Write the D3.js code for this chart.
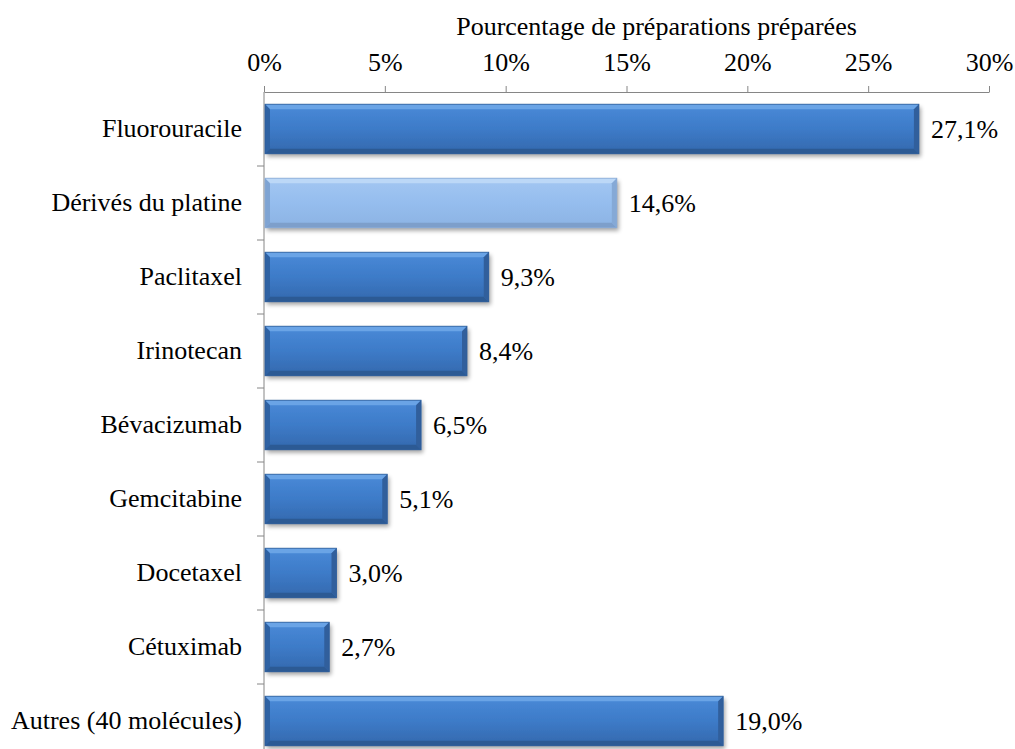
<!DOCTYPE html>
<html><head><meta charset="utf-8">
<script src="https://cdn.jsdelivr.net/npm/d3@7/dist/d3.min.js"></script>
<style>body{margin:0;background:#fff}svg{display:block}text{font-family:"Liberation Serif","Times New Roman",serif;fill:#000}</style>
</head><body>
<svg id="c" width="1015" height="749"></svg>
<script>
const categories = ["Fluorouracile","Dérivés du platine","Paclitaxel","Irinotecan","Bévacizumab","Gemcitabine","Docetaxel","Cétuximab","Autres (40 molécules)"];
const values = [27.1,14.6,9.3,8.4,6.5,5.1,3.0,2.7,19.0];
const valueLabels = ["27,1%","14,6%","9,3%","8,4%","6,5%","5,1%","3,0%","2,7%","19,0%"];
const highlighted = ["Dérivés du platine"];
const tickValues = [0,5,10,15,20,25,30];
const axisTitle = "Pourcentage de préparations préparées";

(function(){
const svg = d3.select("#c");
const FS = "26px", FF = "Liberation Serif, Times New Roman, serif";
const mL = 264, mR = 989, mT = 92, bandH = 74;
const x = d3.scaleLinear().domain([0,30]).range([mL,mR]);
const y = d3.scaleBand().domain(categories).range([mT, mT + bandH*categories.length]).paddingInner(0.33).paddingOuter(0.165);

const defs = svg.append("defs");
function grad(id, stops){
  const g = defs.append("linearGradient").attr("id",id).attr("x1",0).attr("y1",0).attr("x2",0).attr("y2",1);
  stops.forEach(s=>g.append("stop").attr("offset",s[0]).attr("stop-color",s[1]));
}
grad("gDark",[[0,"#4a8ad8"],[0.5,"#3d7bc8"],[1,"#3468ad"]]);
grad("gLight",[[0,"#a3c7f2"],[0.5,"#95bdee"],[1,"#8cb3e3"]]);
const f = defs.append("filter").attr("id","sh").attr("x","-5%").attr("y","-20%").attr("width","115%").attr("height","160%");
f.append("feGaussianBlur").attr("in","SourceAlpha").attr("stdDeviation",2);
f.append("feOffset").attr("dx",2).attr("dy",3).attr("result","b");
f.append("feComponentTransfer").append("feFuncA").attr("type","linear").attr("slope",0.35);
const m = f.append("feMerge"); m.append("feMergeNode"); m.append("feMergeNode").attr("in","SourceGraphic");

svg.append("text").attr("x",(mL+mR)/2 + 30).attr("y",35).attr("text-anchor","middle").style("font-size",FS).text(axisTitle);

const ax = svg.append("g").attr("transform",`translate(0,${mT})`)
  .call(d3.axisTop(x).tickValues(tickValues).tickFormat(d=>d+"%").tickSize(6).tickSizeOuter(0));
ax.select(".domain").attr("stroke","#868686");
ax.selectAll(".tick line").attr("stroke","#868686");
ax.selectAll(".tick text").attr("y",-21).style("font-size",FS).style("font-family",FF).attr("fill","#000");

const ay = svg.append("g").attr("transform",`translate(${mL},0)`)
  .call(d3.axisLeft(y).tickSize(0).tickPadding(22));
ay.select(".domain").attr("stroke","#868686").attr("d",`M0,${mT}V749`);
ay.selectAll(".tick text").style("font-size",FS).style("font-family",FF).attr("fill","#000");
svg.append("g").selectAll("line").data(d3.range(1,categories.length)).join("line")
  .attr("x1",mL-7).attr("x2",mL).attr("y1",i=>mT+i*bandH).attr("y2",i=>mT+i*bandH)
  .attr("stroke","#868686");

const data = categories.map((c,i)=>({c, v:values[i], lab:valueLabels[i], hi: highlighted.includes(c)}));
const bars = svg.append("g").selectAll("g").data(data).join("g");
const bw = 5;
const X0 = x(0)+1;
bars.append("rect").attr("x",X0).attr("y",d=>y(d.c)).attr("width",d=>x(d.v)-X0).attr("height",y.bandwidth())
  .attr("fill",d=>d.hi?"url(#gLight)":"url(#gDark)").attr("filter","url(#sh)");
function poly(sel, fn, fillDark, fillLight){
  sel.append("polygon").attr("points",d=>fn(d).map(p=>p.join(",")).join(" ")).attr("fill",d=>d.hi?fillLight:fillDark);
}
const H = y.bandwidth();
poly(bars, d=>[[X0,y(d.c)],[x(d.v),y(d.c)],[x(d.v)-bw,y(d.c)+bw],[X0+bw,y(d.c)+bw]], "#6aa4e6","#bcd8f7");
poly(bars, d=>[[X0,y(d.c)+H],[x(d.v),y(d.c)+H],[x(d.v)-bw,y(d.c)+H-bw],[X0+bw,y(d.c)+H-bw]], "#2c5a94","#7d9fcb");
poly(bars, d=>[[X0,y(d.c)],[X0+bw,y(d.c)+bw],[X0+bw,y(d.c)+H-bw],[X0,y(d.c)+H]], "#2f62a3","#7fa4d3");
poly(bars, d=>[[x(d.v),y(d.c)],[x(d.v)-bw,y(d.c)+bw],[x(d.v)-bw,y(d.c)+H-bw],[x(d.v),y(d.c)+H]], "#315f9c","#85a9d6");
bars.append("rect").attr("x",X0).attr("y",d=>y(d.c)).attr("width",d=>x(d.v)-X0).attr("height",H)
  .attr("fill","none").attr("stroke",d=>d.hi?"#8aaad4":"#2e5d99").attr("stroke-width",0.8);

bars.append("text").attr("x",d=>x(d.v)+12).attr("y",d=>y(d.c)+H/2).attr("dy","0.35em")
  .style("font-size",FS).text(d=>d.lab);
})();
</script>
</body></html>
